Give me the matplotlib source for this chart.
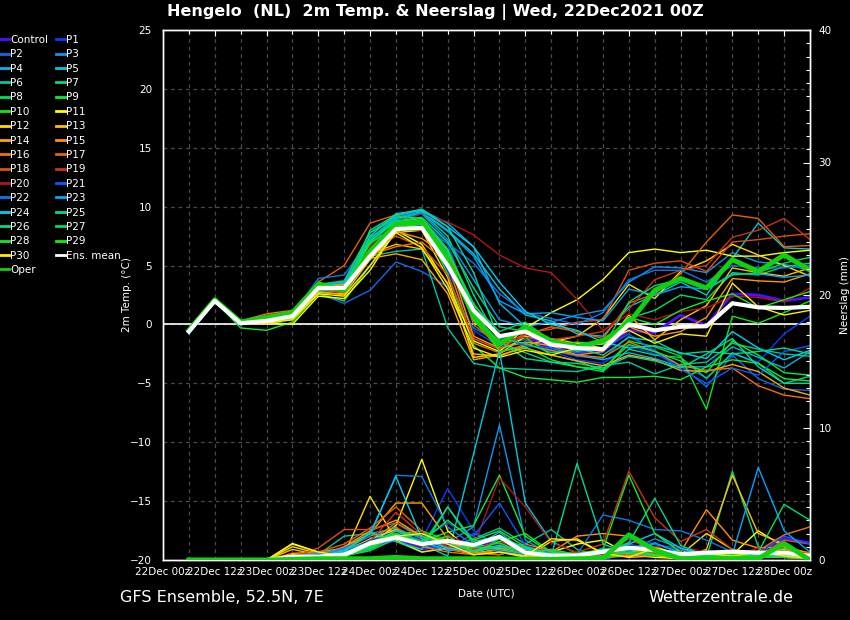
import numpy as np
import matplotlib
matplotlib.use('Agg')
import matplotlib.pyplot as plt
from matplotlib.lines import Line2D
from matplotlib.ticker import MultipleLocator

plt.rcParams['font.family'] = ['DejaVu Sans']

# forecast hours after 22Dec2021 00z
hours = [6, 12, 18, 24, 30, 36, 42, 48, 54, 60, 66, 72, 78, 84, 90, 96, 102, 108, 114, 120, 126, 132, 138, 144, 150]
tick_hours = [0, 12, 24, 36, 48, 60, 72, 84, 96, 108, 120, 132, 144]
tick_labels = ['22Dec 00z', '22Dec 12z', '23Dec 00z', '23Dec 12z', '24Dec 00z', '24Dec 12z', '25Dec 00z',
               '25Dec 12z', '26Dec 00z', '26Dec 12z', '27Dec 00z', '27Dec 12z', '28Dec 00z']

names = ['Control'] + [f'P{i}' for i in range(1, 31)]
colors = ['#4a10ff', '#0a3cff', '#1468e6', '#0c96ee', '#00b6ee', '#00cadc', '#00c89a', '#00d884', '#00dc64',
          '#10ea3c', '#10e810', '#ffff00', '#ffdc00', '#ffbe00', '#ffa600', '#ff9400', '#ee7600', '#e86200',
          '#dc5010', '#cc3414', '#b41414', '#0a58ff', '#0c78ee', '#00a6ff', '#00cef0', '#00d89c', '#00d88a',
          '#00dc66', '#10ea28', '#14ec14', '#ffee00']

# 2m temperature (°C)
t_ctrl = [-0.6, 2.0, 0.1, 0.4, 0.8, 3.1, 3.0, 6.0, 8.3, 8.5, 5.2, 0.8, -1.8, -1.0, -2.0, -2.4, -2.3, -0.5, -0.7, 0.8, -0.1, 2.6, 2.5, 2.0, 2.3]
t_p1 = [-0.7, 2.0, 0.0, 0.3, 0.6, 2.9, 3.2, 5.5, 7.9, 8.4, 4.6, -0.5, -1.9, -1.6, -2.3, -3.0, -3.3, -1.8, -2.5, -3.5, -4.5, -2.5, -3.2, -0.8, 0.7]
t_p2 = [-0.7, 1.9, 0.0, 0.2, 0.5, 2.6, 1.8, 2.9, 5.3, 4.5, 3.2, -0.3, -1.5, -1.3, -2.2, -2.7, -2.9, -1.0, -2.2, -3.5, -5.3, -2.6, -4.6, -5.5, -5.6]
t_p3 = [-0.6, 2.0, 0.2, 0.5, 0.9, 3.5, 3.3, 6.8, 8.9, 9.4, 7.2, 3.8, 0.4, -0.2, 0.2, 0.8, 1.2, 3.6, 4.9, 4.8, 4.4, 6.1, 5.3, 5.1, 4.6]
t_p4 = [-0.8, 1.9, 0.1, 0.3, 0.7, 3.0, 3.4, 7.2, 9.2, 9.7, 8.6, 6.6, 1.8, -0.2, -2.0, -2.6, -3.0, -2.4, -2.9, -3.6, -3.6, -1.9, -2.8, -3.7, -2.3]
t_p5 = [-0.7, 2.0, 0.1, 0.4, 0.8, 3.2, 3.5, 7.0, 9.0, 9.6, 8.0, 6.0, 3.0, 0.8, 0.3, -0.8, -1.0, 1.5, 2.5, 3.6, 2.5, 5.6, 8.6, 6.5, 6.4]
t_p6 = [-0.6, 2.0, 0.0, 0.2, 0.5, 2.8, 3.0, 5.8, 6.2, 6.4, -0.3, -3.3, -3.7, -3.8, -3.9, -4.0, -3.5, -3.2, -4.2, -3.4, -3.2, -1.6, -2.1, -2.5, -2.7]
t_p7 = [-0.6, 2.1, 0.2, 0.5, 0.9, 3.3, 3.6, 7.8, 9.0, 9.5, 7.5, 2.5, -1.5, -2.4, -3.2, -3.6, -4.0, -2.1, -2.6, -2.8, -4.6, -2.4, -3.3, -5.0, -4.4]
t_p8 = [-0.5, 2.1, 0.0, 0.3, 0.8, 3.0, 2.9, 6.4, 8.5, 8.9, 6.0, 1.6, -0.6, 0.2, -1.4, -2.3, -2.0, 0.5, 1.2, 2.5, 2.1, 4.4, 4.2, 4.9, 5.2]
t_p9 = [-0.6, 2.0, -0.3, -0.5, 0.2, 2.6, 2.0, 5.0, 8.0, 8.6, 4.3, -1.8, -3.7, -4.5, -4.7, -4.9, -4.5, -4.5, -4.4, -4.7, -3.6, -3.0, -3.3, -4.6, -4.8]
t_p10 = [-0.6, 2.1, 0.2, 0.6, 1.1, 3.4, 3.2, 6.6, 8.6, 8.8, 5.4, 0.4, -2.2, -1.1, -2.6, -3.1, -3.9, -1.4, -1.9, -2.7, -7.2, 0.7, 0.1, 1.0, 2.0]
t_p11 = [-0.6, 2.0, 0.1, 0.2, 0.0, 2.4, 2.2, 4.6, 8.0, 6.8, 3.4, -1.4, -2.3, -0.3, 1.0, 2.1, 3.8, 6.1, 6.4, 6.1, 6.3, 5.8, 5.8, 6.1, 6.3]
t_p12 = [-0.6, 2.0, 0.0, 0.3, 0.4, 2.7, 2.6, 5.5, 7.8, 8.0, 4.0, -2.8, -2.5, -1.0, -1.5, -1.0, 0.5, 3.4, 2.2, 4.5, 5.4, 6.8, 5.9, 5.0, 4.1]
t_p13 = [-0.6, 2.0, 0.2, 0.6, 0.9, 3.0, 2.8, 6.0, 6.8, 6.4, 3.5, -2.5, -2.7, -1.8, -1.2, -1.6, -2.0, 0.8, -1.3, 0.4, 1.6, 4.8, 4.4, 4.1, 4.8]
t_p14 = [-0.7, 1.9, 0.1, 0.5, 0.6, 2.8, 2.5, 5.6, 6.0, 5.5, 2.6, -3.0, -2.6, -2.0, -2.6, -3.1, -3.5, -2.6, -3.0, -3.9, -4.0, -3.4, -4.0, -5.4, -6.0]
t_p15 = [-0.6, 2.0, 0.1, 0.6, 1.0, 3.2, 3.4, 6.2, 7.9, 7.3, 5.8, -1.0, -2.0, -1.5, -1.8, -2.6, -2.3, -0.2, -1.0, -0.6, 0.6, 3.9, 3.7, 3.6, 4.3]
t_p16 = [-0.7, 1.9, 0.3, 0.9, 1.2, 3.0, 3.0, 5.9, 6.6, 7.0, 5.2, -1.6, -2.4, -1.7, -2.2, -2.6, -2.8, -1.5, -2.3, -3.5, -3.9, -3.7, -5.2, -6.0, -6.3]
t_p17 = [-0.6, 2.0, 0.2, 0.7, 1.1, 3.6, 5.0, 8.6, 9.3, 8.5, 6.4, 0.0, -1.8, -0.9, -0.2, -0.6, -1.2, 1.8, 2.6, 4.3, 7.0, 9.3, 9.0, 6.6, 6.7]
t_p18 = [-0.6, 2.0, 0.1, 0.6, 0.8, 2.9, 2.7, 6.3, 7.5, 6.6, 4.2, -1.2, -2.1, -0.7, -0.4, 0.2, 0.4, 4.6, 5.2, 5.4, 4.5, 7.0, 7.2, 7.5, 7.7]
t_p19 = [-0.6, 2.0, 0.2, 0.8, 0.9, 3.2, 3.1, 6.5, 8.1, 8.0, 5.6, 0.6, -1.4, -1.1, -1.3, -1.0, -0.6, 1.3, 3.8, 4.6, 5.0, 7.4, 8.0, 9.0, 7.2]
t_p20 = [-0.6, 2.0, 0.1, 0.4, 0.7, 3.1, 3.2, 6.6, 8.6, 9.4, 8.7, 7.6, 5.9, 4.8, 4.4, 2.1, -0.5, 0.9, 0.4, 1.1, 1.4, 2.4, 2.3, 1.9, 3.1]
t_p21 = [-0.6, 2.0, 0.0, 0.3, 0.7, 3.1, 3.0, 6.1, 8.4, 8.9, 6.8, 1.0, -1.0, -1.8, -2.0, -2.4, -2.1, -0.8, -2.3, -3.8, -5.0, -3.7, -4.3, -2.3, -1.8]
t_p22 = [-0.6, 2.0, 0.1, 0.5, 0.8, 3.9, 4.2, 7.2, 8.0, 8.1, 6.9, 5.2, 2.6, 1.0, 0.5, 0.0, 1.0, 3.8, 4.6, 4.6, 3.6, 5.0, 4.8, 4.8, 5.0]
t_p23 = [-0.7, 2.0, 0.2, 0.4, 0.8, 3.3, 3.6, 7.0, 9.1, 9.5, 7.9, 5.8, 2.0, 0.9, 1.0, 0.6, 0.3, 3.0, 2.5, 3.2, 3.0, 4.3, 4.3, 4.0, 4.2]
t_p24 = [-0.8, 2.0, 0.1, 0.3, 0.6, 3.0, 3.2, 7.5, 9.4, 9.7, 8.3, 6.6, 3.6, 1.1, 0.0, -0.5, -1.5, -2.0, -1.8, -2.4, -2.9, -0.6, -2.0, -3.0, -2.2]
t_p25 = [-0.6, 2.0, 0.0, 0.2, 0.6, 2.9, 2.9, 8.0, 9.3, 9.8, 8.3, 4.4, -1.4, -2.9, -3.2, -3.3, -3.7, -2.7, -3.1, -3.7, -2.5, -1.2, -3.6, -5.0, -5.0]
t_p26 = [-0.5, 2.1, 0.2, 0.5, 0.9, 3.2, 3.2, 7.4, 8.8, 9.1, 7.0, 3.1, -0.2, -0.6, -1.7, -2.0, -2.6, -1.1, -1.4, -2.5, -2.3, -2.5, -2.3, -2.0, -2.5]
t_p27 = [-0.6, 2.0, 0.1, 0.4, 0.7, 3.4, 3.7, 7.8, 9.2, 9.0, 6.2, 1.8, -1.2, -1.6, -2.4, -2.2, -2.0, 1.9, 3.3, 3.8, 3.0, 4.2, 4.4, 5.2, 5.7]
t_p28 = [-0.7, 2.0, 0.0, 0.2, 0.5, 3.1, 2.8, 7.1, 8.7, 9.0, 6.4, 1.3, -2.3, -1.9, -3.0, -3.6, -3.8, -1.7, -2.3, -3.1, -4.1, -1.4, -2.6, -4.1, -4.3]
t_p29 = [-0.6, 2.1, 0.1, 0.6, 1.0, 3.6, 3.0, 6.9, 8.3, 8.5, 5.8, 0.3, -1.6, -0.5, -1.8, -1.5, -1.7, 0.6, 0.0, 1.2, 2.0, 2.6, 1.4, 2.1, 2.8]
t_p30 = [-0.6, 2.0, 0.0, 0.1, 0.4, 2.6, 2.4, 5.0, 7.8, 6.5, 3.0, -2.0, -2.8, -2.2, -2.6, -2.0, -1.6, -0.5, -1.6, -0.8, -1.0, 3.5, 1.5, 0.8, 1.2]
t_mean = [-0.6, 2.0, 0.1, 0.3, 0.7, 3.1, 3.1, 5.8, 8.1, 8.2, 5.0, 1.2, -1.0, -0.6, -1.7, -2.0, -2.1, 0.0, -0.5, -0.2, -0.15, 1.8, 1.45, 1.4, 1.5]
t_oper = [-0.5, 2.1, 0.2, 0.6, 1.0, 3.4, 2.9, 6.2, 8.5, 8.7, 5.5, 0.7, -1.7, -0.2, -1.4, -1.9, -1.4, 0.1, 2.9, 3.9, 3.1, 5.5, 4.5, 5.9, 4.6]

# precipitation (mm per 6h)
r_ctrl = [0, 0, 0, 0, 0.1, 0.2, 0.4, 1.0, 1.5, 0.8, 1.2, 0.6, 1.8, 0.4, 0.2, 0.1, 0.0, 0.8, 0.5, 0.3, 0.2, 0.4, 0.6, 1.6, 1.3]
r_p1 = [0, 0, 0, 0, 0, 0.3, 0.6, 1.2, 2.0, 1.5, 5.4, 2.2, 1.0, 0.5, 0.3, 0.1, 0.2, 0.6, 0.4, 0.2, 0.1, 0.3, 0.2, 0.5, 0.3]
r_p2 = [0, 0, 0, 0, 0.2, 0.1, 0.3, 0.8, 1.6, 1.0, 0.8, 2.0, 1.2, 0.4, 0.8, 0.4, 0.6, 1.2, 0.8, 0.3, 0.2, 0.1, 0.4, 0.2, 0.2]
r_p3 = [0, 0, 0, 0, 0.1, 0.2, 1.0, 2.0, 2.4, 1.6, 1.3, 2.5, 10.2, 1.5, 0.4, 0.3, 0.9, 0.7, 1.6, 0.9, 0.4, 0.6, 0.3, 0.2, 0.1]
r_p4 = [0, 0, 0, 0, 0.3, 0.1, 0.5, 1.4, 2.8, 1.8, 1.2, 1.0, 2.1, 0.6, 0.4, 0.2, 0.3, 0.8, 1.2, 0.6, 0.1, 0.2, 0.5, 0.4, 0.2]
r_p5 = [0, 0, 0, 0, 0.1, 0.3, 0.4, 0.9, 1.8, 1.2, 0.3, 8.0, 15.8, 4.3, 1.4, 0.5, 0.3, 1.0, 0.6, 0.4, 0.2, 0.3, 0.1, 0.6, 0.4]
r_p6 = [0, 0, 0, 0, 0.2, 0.4, 1.8, 2.0, 1.4, 0.6, 0.9, 1.6, 2.4, 1.2, 2.3, 0.8, 0.2, 0.5, 0.3, 0.8, 0.4, 0.1, 0.3, 0.2, 0.1]
r_p7 = [0, 0, 0, 0, 0, 0.1, 0.3, 1.2, 2.0, 1.3, 0.8, 0.5, 1.6, 0.8, 0.3, 0.2, 0.1, 0.4, 0.6, 0.3, 0.2, 6.7, 1.0, 0.4, 0.2]
r_p8 = [0, 0, 0, 0, 0.1, 0.3, 0.8, 1.5, 2.3, 1.1, 4.0, 1.2, 0.9, 0.6, 0.4, 0.1, 0.3, 0.5, 0.9, 0.4, 0.2, 0.5, 0.3, 0.9, 0.4]
r_p9 = [0, 0, 0, 0, 0, 0.2, 0.5, 1.0, 1.7, 1.4, 2.1, 2.6, 6.4, 1.8, 0.5, 0.2, 0.4, 1.0, 0.5, 0.3, 0.1, 0.2, 0.2, 0.3, 0.1]
r_p10 = [0, 0, 0, 0, 0.1, 0.2, 0.4, 0.8, 1.9, 2.2, 1.5, 0.9, 1.3, 0.5, 0.3, 0.6, 0.2, 0.3, 0.4, 0.8, 0.3, 0.4, 0.1, 0.7, 0.2]
r_p11 = [0, 0, 0, 0, 1.25, 0.6, 0.2, 1.2, 2.6, 7.6, 2.2, 0.5, 0.8, 0.3, 0.6, 1.2, 1.5, 0.4, 0.2, 0.1, 0.3, 0.4, 2.2, 1.0, 0.5]
r_p12 = [0, 0, 0, 0, 1.0, 0.5, 0.4, 4.8, 1.5, 0.6, 0.9, 0.4, 0.6, 0.2, 1.4, 1.6, 0.5, 0.3, 1.0, 0.4, 2.0, 0.8, 0.3, 0.2, 0.1]
r_p13 = [0, 0, 0, 0, 0.8, 0.4, 0.6, 1.6, 2.3, 1.2, 1.4, 0.8, 0.9, 0.3, 0.2, 0.4, 0.8, 0.2, 0.3, 0.2, 0.8, 6.4, 2.0, 1.2, 0.3]
r_p14 = [0, 0, 0, 0, 0.5, 0.6, 0.9, 2.0, 4.3, 4.3, 1.6, 0.5, 0.8, 0.4, 0.2, 0.5, 0.3, 0.6, 0.9, 0.3, 0.2, 0.1, 0.6, 0.8, 0.4]
r_p15 = [0, 0, 0, 0, 0.4, 0.3, 1.0, 2.2, 3.0, 1.8, 1.4, 0.6, 0.4, 1.0, 0.6, 1.8, 2.0, 1.8, 0.4, 0.6, 3.8, 1.5, 0.9, 1.0, 0.5]
r_p16 = [0, 0, 0, 0, 0.2, 0.5, 0.8, 1.8, 2.5, 1.0, 0.6, 0.4, 0.8, 1.2, 0.7, 0.3, 0.2, 0.4, 0.3, 0.5, 0.6, 0.4, 0.7, 1.9, 2.5]
r_p17 = [0, 0, 0, 0, 0.3, 0.6, 1.2, 2.4, 4.0, 2.2, 0.8, 0.5, 0.4, 0.9, 0.5, 0.3, 0.6, 0.4, 0.8, 0.5, 0.3, 0.2, 0.5, 0.4, 0.6]
r_p18 = [0, 0, 0, 0, 0.2, 0.9, 2.3, 2.3, 2.8, 1.6, 0.9, 0.6, 1.1, 0.5, 0.3, 0.2, 0.4, 0.9, 0.5, 0.3, 0.7, 0.5, 0.3, 1.5, 1.2]
r_p19 = [0, 0, 0, 0, 0.1, 0.4, 0.7, 1.4, 3.6, 1.9, 1.0, 0.8, 1.4, 0.7, 0.5, 0.6, 1.2, 6.7, 3.2, 1.4, 2.3, 0.8, 0.4, 0.2, 0.1]
r_p20 = [0, 0, 0, 0, 0.1, 0.2, 0.5, 1.1, 1.7, 1.0, 1.9, 1.0, 6.2, 4.0, 1.3, 0.6, 0.4, 1.4, 1.0, 1.0, 0.6, 0.3, 0.9, 0.5, 0.2]
r_p21 = [0, 0, 0, 0, 0.2, 0.3, 0.6, 1.5, 2.0, 1.5, 2.8, 1.8, 4.3, 1.1, 0.5, 0.3, 0.6, 1.6, 1.2, 0.8, 0.4, 0.2, 0.5, 1.8, 1.2]
r_p22 = [0, 0, 0, 0, 0.1, 0.4, 0.9, 1.8, 6.4, 6.3, 2.5, 1.1, 0.7, 0.4, 0.6, 0.4, 3.4, 3.0, 2.3, 2.2, 1.5, 0.6, 0.3, 0.4, 0.2]
r_p23 = [0, 0, 0, 0, 0.3, 0.5, 0.8, 1.3, 2.2, 1.4, 0.7, 1.2, 1.6, 1.0, 0.5, 0.3, 0.2, 0.6, 1.3, 0.5, 0.2, 0.4, 7.0, 2.2, 0.6]
r_p24 = [0, 0, 0, 0, 0.1, 0.3, 0.7, 2.0, 6.3, 1.6, 0.9, 0.6, 1.0, 0.8, 0.4, 0.2, 0.3, 1.2, 2.0, 0.9, 0.3, 0.2, 0.4, 0.3, 0.2]
r_p25 = [0, 0, 0, 0, 0, 0.2, 0.6, 2.1, 1.4, 0.8, 4.0, 1.4, 1.8, 0.9, 0.3, 7.3, 1.2, 0.5, 0.4, 0.2, 0.3, 0.5, 0.2, 0.3, 0.2]
r_p26 = [0, 0, 0, 0, 0.1, 0.2, 0.4, 1.1, 2.2, 1.8, 1.2, 0.7, 1.1, 0.6, 0.3, 0.2, 0.5, 1.3, 4.65, 1.1, 0.3, 0.4, 0.6, 0.5, 0.3]
r_p27 = [0, 0, 0, 0, 0, 0.1, 0.3, 0.7, 1.6, 2.0, 1.4, 1.0, 0.8, 0.5, 0.8, 0.4, 0.2, 0.6, 0.3, 0.5, 0.4, 0.3, 0.6, 4.2, 3.0]
r_p28 = [0, 0, 0, 0, 0.1, 0.2, 0.5, 1.0, 1.9, 1.4, 3.0, 1.5, 2.2, 1.0, 0.4, 0.5, 0.8, 6.4, 2.0, 0.6, 0.2, 0.4, 0.3, 0.2, 0.1]
r_p29 = [0, 0, 0, 0, 0, 0.1, 0.3, 1.3, 2.0, 1.2, 1.8, 0.6, 1.4, 2.0, 0.6, 0.4, 0.2, 0.8, 0.4, 0.3, 0.2, 0.5, 0.2, 0.6, 0.3]
r_p30 = [0, 0, 0, 0, 1.2, 0.6, 0.3, 1.4, 1.8, 2.0, 1.2, 0.4, 0.6, 0.3, 1.6, 1.5, 0.5, 0.2, 0.9, 0.3, 0.5, 0.3, 0.6, 0.3, 0.1]
r_mean = [0, 0, 0, 0, 0.25, 0.25, 0.4, 1.25, 1.7, 1.2, 1.45, 1.13, 1.76, 0.55, 0.33, 0.33, 0.63, 0.93, 0.75, 0.43, 0.55, 0.63, 0.55, 0.55, 0.3]
r_oper = [0, 0, 0, 0, 0.05, 0.1, 0.1, 0.1, 0.2, 0.1, 0.1, 0.1, 0.1, 0.05, 0.05, 0.1, 0.1, 1.9, 0.75, 0.1, 0.1, 0.1, 0.1, 1.25, 0.0]

temp_members = [t_ctrl, t_p1, t_p2, t_p3, t_p4, t_p5, t_p6, t_p7, t_p8, t_p9, t_p10, t_p11, t_p12, t_p13, t_p14, t_p15,
                t_p16, t_p17, t_p18, t_p19, t_p20, t_p21, t_p22, t_p23, t_p24, t_p25, t_p26, t_p27, t_p28, t_p29, t_p30]
rain_members = [r_ctrl, r_p1, r_p2, r_p3, r_p4, r_p5, r_p6, r_p7, r_p8, r_p9, r_p10, r_p11, r_p12, r_p13, r_p14, r_p15,
                r_p16, r_p17, r_p18, r_p19, r_p20, r_p21, r_p22, r_p23, r_p24, r_p25, r_p26, r_p27, r_p28, r_p29, r_p30]

oper_color = '#10d010'
grid_color = '#4a4a4a'

fig = plt.figure(figsize=(8.5, 6.2), dpi=100, facecolor='black')
ax = fig.add_axes([163/850, 60/620, 647/850, 530/620])
ax.set_facecolor('black')
ax.set_xlim(0, 150)
ax.set_ylim(-20, 25)

ax2 = ax.twinx()
ax2.set_ylim(0, 40)
ax2.patch.set_visible(False)

# grid
for h in range(6, 150, 6):
    ax.axvline(h, color=grid_color, lw=0.9, ls=(0, (3, 3)), zorder=0)
for v in range(-15, 25, 5):
    ax.axhline(v, color=grid_color, lw=0.9, ls=(0, (3, 3)), zorder=0)
ax.axhline(0, color='white', lw=1.2, zorder=1)

# temperature
for i, vals in enumerate(temp_members):
    ax.plot(hours, vals, color=colors[i], lw=2.0 if i == 0 else 1.0, zorder=2)
ax.plot(hours, t_oper, color=oper_color, lw=3.5, zorder=3)
ax.plot(hours, t_mean, color='white', lw=3.0, zorder=4)

# precipitation
for i, vals in enumerate(rain_members):
    ax2.plot(hours, vals, color=colors[i], lw=2.0 if i == 0 else 1.0, zorder=2)
ax2.plot(hours, r_mean, color='white', lw=3.0, zorder=3)
ax2.plot(hours, r_oper, color=oper_color, lw=3.5, zorder=4)

# axes styling
for a in (ax, ax2):
    for s in a.spines.values():
        s.set_color('white')
        s.set_linewidth(1.0)
    a.tick_params(colors='white', labelsize=7.5, direction='in', length=4, width=0.8)
    a.tick_params(which='minor', colors='white', direction='in', length=3, width=0.8)

ax.set_xticks(tick_hours)
ax.set_xticklabels(tick_labels)
ax.xaxis.set_minor_locator(MultipleLocator(6))
ax.tick_params(axis='x', which='both', top=True, bottom=False, pad=5)
ax.tick_params(axis='x', which='major', length=4)
ax.yaxis.set_major_locator(MultipleLocator(5))
ax.tick_params(axis='y', which='both', length=0, pad=8)
ax2.yaxis.set_major_locator(MultipleLocator(10))
ax2.yaxis.set_minor_locator(MultipleLocator(1))
ax2.tick_params(axis='y', which='major', length=5, pad=6)

ax.set_xlabel('Date (UTC)', color='white', fontsize=7.5, labelpad=8)
ax.set_ylabel('2m Temp. (°C)', color='white', fontsize=7.5)
ax.yaxis.set_label_coords((132 - 163) / 647, 0.5)
ax2.set_ylabel('Neerslag (mm)', color='white', fontsize=7.5)
ax2.yaxis.set_label_coords((840 - 163) / 647, 0.5)

# legend, row-wise order
handles = [Line2D([], [], color=c, lw=2) for c in colors]
labels = list(names)
handles += [Line2D([], [], color='white', lw=2), Line2D([], [], color=oper_color, lw=2)]
labels += ['Ens. mean', 'Oper']
col1 = list(range(0, 31, 2)) + [32]
col2 = list(range(1, 31, 2)) + [31]
order = col1 + col2
fig.legend([handles[k] for k in order], [labels[k] for k in order], ncol=2,
           loc='upper left', bbox_to_anchor=(0.0, 1 - 35/620), frameon=False,
           fontsize=7.5, labelcolor='white', handlelength=0.9, handletextpad=0.05,
           labelspacing=0.42, columnspacing=0.8, borderpad=0, borderaxespad=0)

fig.text(435/850, 1 - 12/620, 'Hengelo  (NL)  2m Temp. & Neerslag | Wed, 22Dec2021 00Z',
         color='white', fontsize=11.5, fontweight='bold', ha='center', va='center')
fig.text(120/850, 1 - 598/620, 'GFS Ensemble, 52.5N, 7E', color='white', fontsize=11.5, ha='left', va='center')
fig.text(793/850, 1 - 598/620, 'Wetterzentrale.de', color='white', fontsize=11.5, ha='right', va='center')

fig.savefig('out.png', dpi=100, facecolor='black')
